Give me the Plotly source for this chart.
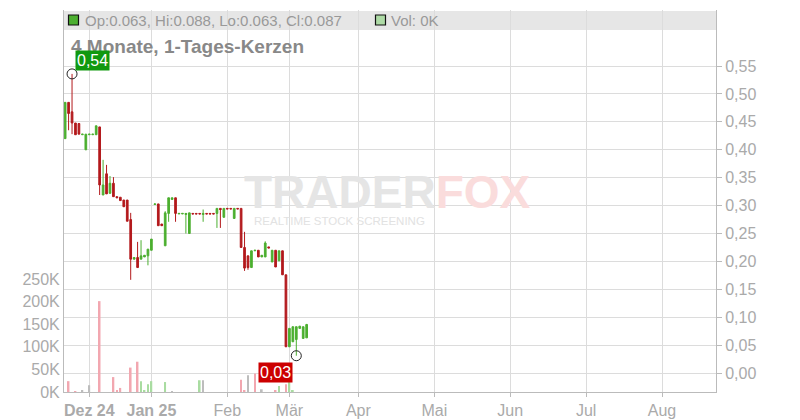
import plotly.graph_objects as go
import numpy as np

# trading-day index (0 = first trading day of December 2024)
day = list(range(-7, 64))

open_ = [0.420, 0.485, 0.468, 0.448, 0.447, 0.427, 0.400, 0.427, 0.427, 0.427,
         0.441, 0.319, 0.357, 0.322, 0.340, 0.316, 0.315, 0.310, 0.310, 0.275,
         0.204, 0.207, 0.204, 0.208, 0.210, 0.220, 0.302, 0.303, 0.267, 0.228,
         0.286, 0.311, 0.314, 0.285, 0.285, 0.284, 0.250, 0.286, 0.286, 0.286,
         0.284, 0.286, 0.286, 0.286, 0.286, 0.295, 0.279, 0.295, 0.295, 0.277,
         0.295, 0.295, 0.225, 0.210, 0.189, 0.219, 0.220, 0.208, 0.208, 0.226,
         0.199, 0.220, 0.201, 0.219, 0.176, 0.047, 0.056, 0.060, 0.080, 0.062,
         0.063]
high = [0.485, 0.485, 0.536, 0.448, 0.448, 0.428, 0.428, 0.428, 0.428, 0.443,
        0.441, 0.382, 0.373, 0.353, 0.351, 0.316, 0.315, 0.310, 0.310, 0.287,
        0.207, 0.235, 0.238, 0.211, 0.222, 0.240, 0.303, 0.303, 0.267, 0.290,
        0.314, 0.314, 0.314, 0.286, 0.286, 0.286, 0.287, 0.286, 0.286, 0.286,
        0.293, 0.286, 0.286, 0.286, 0.295, 0.295, 0.295, 0.295, 0.295, 0.295,
        0.295, 0.295, 0.253, 0.210, 0.219, 0.220, 0.220, 0.211, 0.236, 0.226,
        0.220, 0.220, 0.219, 0.219, 0.176, 0.080, 0.083, 0.083, 0.084, 0.083,
        0.088]
low = [0.420, 0.435, 0.428, 0.427, 0.428, 0.427, 0.400, 0.427, 0.427, 0.427,
       0.319, 0.319, 0.321, 0.322, 0.316, 0.314, 0.309, 0.298, 0.272, 0.167,
       0.204, 0.189, 0.204, 0.208, 0.193, 0.220, 0.302, 0.264, 0.264, 0.228,
       0.271, 0.311, 0.271, 0.285, 0.285, 0.250, 0.250, 0.285, 0.285, 0.285,
       0.271, 0.285, 0.285, 0.285, 0.260, 0.260, 0.279, 0.294, 0.294, 0.277,
       0.294, 0.225, 0.183, 0.185, 0.189, 0.219, 0.208, 0.208, 0.208, 0.224,
       0.199, 0.190, 0.201, 0.176, 0.047, 0.047, 0.056, 0.031, 0.080, 0.062,
       0.063]
close = [0.485, 0.465, 0.448, 0.427, 0.428, 0.428, 0.428, 0.428, 0.428, 0.443,
         0.337, 0.337, 0.321, 0.340, 0.316, 0.314, 0.309, 0.298, 0.272, 0.204,
         0.207, 0.189, 0.210, 0.211, 0.222, 0.240, 0.303, 0.264, 0.264, 0.287,
         0.314, 0.314, 0.286, 0.286, 0.286, 0.286, 0.287, 0.285, 0.285, 0.285,
         0.286, 0.285, 0.285, 0.285, 0.295, 0.293, 0.295, 0.294, 0.294, 0.295,
         0.294, 0.225, 0.188, 0.189, 0.219, 0.220, 0.208, 0.211, 0.233, 0.224,
         0.220, 0.190, 0.219, 0.176, 0.047, 0.080, 0.083, 0.083, 0.084, 0.083,
         0.087]
# volume in thousands, direction: d = down, u = up, n = unchanged
volume = [0, 24, 0, 2, 0, 3, 0, 15, 0, 0,
          201, 0, 0, 0, 33, 4, 9, 0, 0, 54,
          0, 67, 24, 4, 17, 24, 0, 0, 0, 22,
          0, 1, 0, 0, 0, 0, 0, 0, 0, 26,
          26, 0, 0, 0, 0, 0, 0, 0, 0, 0,
          0, 27, 4, 37, 0, 41, 0, 6, 0, 0,
          0, 4, 13, 0, 17, 26, 4, 0, 0, 0,
          0]
vol_dir = ['n', 'd', 'n', 'd', 'n', 'n', 'n', 'n', 'n', 'n',
           'd', 'n', 'n', 'n', 'd', 'd', 'd', 'n', 'n', 'd',
           'n', 'd', 'u', 'u', 'u', 'u', 'n', 'n', 'n', 'u',
           'n', 'n', 'n', 'n', 'n', 'n', 'n', 'n', 'n', 'u',
           'n', 'n', 'n', 'n', 'n', 'n', 'n', 'n', 'n', 'n',
           'n', 'd', 'd', 'n', 'n', 'd', 'n', 'n', 'n', 'n',
           'n', 'd', 'u', 'n', 'd', 'u', 'u', 'n', 'n', 'n',
           'n']

month_ticks = [0, 18, 40, 58, 78, 100, 122, 144, 166]
month_labels = ["Dez 24", "Jan 25", "Feb", "Mär", "Apr", "Mai", "Jun", "Jul", "Aug"]
year_start = ["Dez 24", "Jan 25"]
price_ticks = [0.00, 0.05, 0.10, 0.15, 0.20, 0.25, 0.30, 0.35, 0.40, 0.45, 0.50, 0.55]
vol_ticks = [0, 50, 100, 150, 200, 250]

GREEN = "#4caf30"
RED = "#b3191c"
VCOL = {"d": "#f2a7b0", "u": "#a9dca1", "n": "#bdbdbd"}
FONT = "Liberation Sans, Arial, sans-serif"
GRID = "#dcdcdc"
AXC = "#bbbbbb"
TXT = "#aaaaaa"

# page body has an 8px default margin -> compensate in the figure margins
OFF = 8
L, T, R, B = 64 - OFF, 10 - OFF, 800 - 716 + OFF, 420 - 392 + OFF

fig = go.Figure()

fig.add_trace(go.Bar(
    x=day, y=volume, yaxis="y", width=0.5,
    marker=dict(color=[VCOL[d] for d in vol_dir], line=dict(width=0)),
    hoverinfo="skip"))

fig.add_trace(go.Candlestick(
    x=day, open=open_, high=high, low=low, close=close, yaxis="y2",
    increasing=dict(line=dict(color=GREEN, width=1), fillcolor=GREEN),
    decreasing=dict(line=dict(color=RED, width=1), fillcolor=RED),
    whiskerwidth=0))

ih = int(np.argmax(high))
il = int(np.argmin(low))
fig.add_trace(go.Scatter(
    x=[day[ih], day[il]], y=[high[ih], low[il]], yaxis="y2", mode="markers",
    marker=dict(symbol="circle-open", size=10, color="#222222", line=dict(width=1)),
    hoverinfo="skip"))

ticktext = [f"<b>{m}</b>" if m in year_start else m for m in month_labels]

fig.update_layout(
    width=800, height=420,
    margin=dict(l=L, r=R, t=T, b=B),
    plot_bgcolor="white", paper_bgcolor="white",
    showlegend=False, separators=",.",
    font=dict(family=FONT, size=16, color=TXT),
    xaxis=dict(range=[-7.33, 181.65], tickmode="array", tickvals=month_ticks,
               ticktext=ticktext, showgrid=True, gridcolor=GRID, gridwidth=1,
               showline=True, linecolor=AXC, ticks="outside", ticklen=4,
               tickcolor=AXC, zeroline=False, rangeslider=dict(visible=False),
               tickfont=dict(size=16, color=TXT)),
    yaxis=dict(side="left", range=[0, 845], tickmode="array", tickvals=vol_ticks,
               ticktext=[f"{v}K" for v in vol_ticks], showgrid=False,
               showline=True, linecolor=AXC, zeroline=False, ticks="",
               tickfont=dict(size=16, color=TXT)),
    yaxis2=dict(side="right", overlaying="y", range=[-0.034, 0.6505],
                tickmode="array", tickvals=price_ticks, tickformat=".2f",
                showgrid=True, gridcolor=GRID, showline=True, linecolor=AXC,
                ticks="outside", ticklen=5, tickcolor=AXC, zeroline=False,
                tickfont=dict(size=16, color=TXT)),
)

# helpers: convert target-picture pixels to paper coordinates
def px_x(p):
    return (p - 64) / 652

def px_y(p):
    return (392 - p) / 382

shapes = [
    dict(type="rect", xref="paper", yref="paper", x0=0, x1=1, y0=px_y(30), y1=px_y(11),
         fillcolor="#e6e6e6", line=dict(width=0), layer="below"),
    dict(type="rect", xref="paper", yref="paper", x0=px_x(68.5), x1=px_x(78.5),
         y0=px_y(25), y1=px_y(15), fillcolor=GREEN, line=dict(color="#111", width=1.2)),
    dict(type="rect", xref="paper", yref="paper", x0=px_x(375.5), x1=px_x(385.5),
         y0=px_y(25), y1=px_y(15), fillcolor="#aedba6", line=dict(color="#111", width=1.2)),
]
fig.update_layout(shapes=shapes)

info = f"Op:{open_[-1]:.3f}, Hi:{high[-1]:.3f}, Lo:{low[-1]:.3f}, Cl:{close[-1]:.3f}"
annotations = [
    dict(xref="paper", yref="paper", x=px_x(83), y=px_y(20.5), text=info,
         xanchor="left", yanchor="middle", showarrow=False,
         font=dict(size=15, color="#999999")),
    dict(xref="paper", yref="paper", x=px_x(389), y=px_y(20.5), text=f"Vol: {volume[-1]}K",
         xanchor="left", yanchor="middle", showarrow=False,
         font=dict(size=15, color="#999999")),
    dict(xref="paper", yref="paper", x=px_x(69), y=px_y(47), text="<b>4 Monate, 1-Tages-Kerzen</b>",
         xanchor="left", yanchor="middle", showarrow=False,
         font=dict(size=19, color="#888888")),
    dict(xref="paper", yref="paper", x=px_x(387), y=px_y(192),
         text="<b><span style='color:#e5e5e5'>TRADER</span><span style='color:#fadcdc'>FOX</span></b>",
         xanchor="center", yanchor="middle", showarrow=False,
         font=dict(size=46)),
    dict(xref="paper", yref="paper", x=px_x(339), y=px_y(221), text="REALTIME STOCK SCREENING",
         xanchor="center", yanchor="middle", showarrow=False,
         font=dict(size=11.5, color="#e2e2e2")),
    dict(xref="x", yref="y2", x=day[ih], y=high[ih], text=f"{high[ih]:.2f}".replace(".", ","),
         xanchor="left", yanchor="bottom", xshift=3, yshift=3, showarrow=False,
         bgcolor="#10990f", borderpad=1, font=dict(size=16, color="white")),
    dict(xref="x", yref="y2", x=day[il], y=low[il], text=f"{low[il]:.2f}".replace(".", ","),
         xanchor="right", yanchor="top", xshift=-3, yshift=-6, showarrow=False,
         bgcolor="#cc0000", borderpad=1, font=dict(size=16, color="white")),
]
fig.update_layout(annotations=annotations)

fig.write_html("out.html")
